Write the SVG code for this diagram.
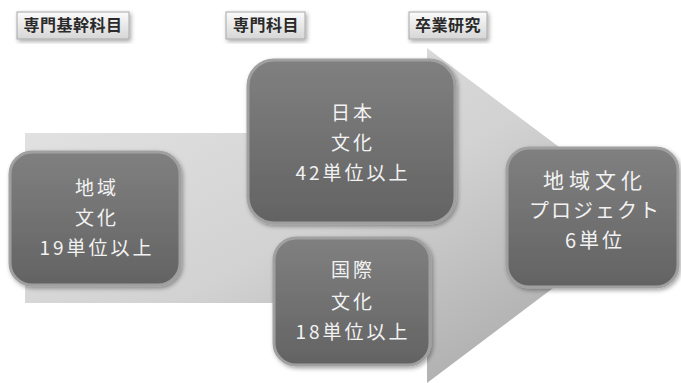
<svg xmlns="http://www.w3.org/2000/svg" width="681" height="383" viewBox="0 0 681 383">
  <defs>
    <linearGradient id="arrowGrad" x1="0" y1="0" x2="1" y2="1">
      <stop offset="0" stop-color="#e6e6e6"/>
      <stop offset="0.5" stop-color="#d2d2d2"/>
      <stop offset="1" stop-color="#a0a0a0"/>
    </linearGradient>
    <linearGradient id="nodeGrad" x1="0" y1="0" x2="0" y2="1">
      <stop offset="0" stop-color="#808080"/>
      <stop offset="1" stop-color="#636363"/>
    </linearGradient>
    <linearGradient id="btnGrad" x1="0" y1="0" x2="0" y2="1">
      <stop offset="0" stop-color="#fbfbfb"/>
      <stop offset="1" stop-color="#d6d6d6"/>
    </linearGradient>
    <filter id="shadow" x="-10%" y="-10%" width="125%" height="125%">
      <feDropShadow dx="1.5" dy="2" stdDeviation="2" flood-color="#000" flood-opacity="0.35"/>
    </filter>
  </defs>
  <style>
    .node { fill: url(#nodeGrad); stroke: #a0a0a0; stroke-width: 3; filter: url(#shadow); }
    .nt { font-family: "Noto Sans CJK JP", "Liberation Sans", sans-serif; font-size: 19px; fill: #f2f2f2; text-anchor: middle; letter-spacing: 3px; }
    .btn { fill: url(#btnGrad); stroke: #a8a8a8; stroke-width: 1; filter: url(#shadow); }
    .bt { font-family: "Noto Sans CJK JP", "Liberation Sans", sans-serif; font-size: 16px; font-weight: bold; fill: #2a2a2a; text-anchor: middle; letter-spacing: 0.5px; }
  </style>
  <rect width="681" height="383" fill="#ffffff"/>

  <g id="flow-arrow">
    <polygon points="25,133 427,133 427,48 650,215 427,383 427,303 25,303" fill="url(#arrowGrad)"/>
  </g>

  <g id="connectors"></g>

  <g id="header-kikan">
    <rect class="btn" x="17" y="12" width="112" height="27"/>
    <text class="bt" x="73" y="31">専門基幹科目</text>
  </g>
  <g id="header-senmon">
    <rect class="btn" x="226" y="12" width="79" height="27"/>
    <text class="bt" x="266" y="31">専門科目</text>
  </g>
  <g id="header-sotsugyo">
    <rect class="btn" x="409" y="12" width="78" height="27"/>
    <text class="bt" x="448" y="31">卒業研究</text>
  </g>

  <g id="node-chiiki">
    <rect class="node" x="10" y="152" width="170" height="133" rx="22"/>
    <text class="nt" x="97" y="195">地域</text>
    <text class="nt" x="97" y="225">文化</text>
    <text class="nt" x="97" y="255">19単位以上</text>
  </g>

  <g id="node-nihon">
    <rect class="node" x="248" y="60" width="207" height="163" rx="26"/>
    <text class="nt" x="353" y="120">日本</text>
    <text class="nt" x="353" y="150">文化</text>
    <text class="nt" x="353" y="180">42単位以上</text>
  </g>

  <g id="node-kokusai">
    <rect class="node" x="274" y="238" width="156" height="127" rx="22"/>
    <text class="nt" x="353" y="277">国際</text>
    <text class="nt" x="353" y="309">文化</text>
    <text class="nt" x="353" y="339">18単位以上</text>
  </g>

  <g id="node-project">
    <rect class="node" x="507" y="148" width="171" height="139" rx="22"/>
    <text class="nt" x="595" y="188" style="font-size:21px;letter-spacing:5px">地域文化</text>
    <text class="nt" x="595" y="218" style="font-size:20px;letter-spacing:2px">プロジェクト</text>
    <text class="nt" x="595" y="248" style="font-size:20px">6単位</text>
  </g>
</svg>
